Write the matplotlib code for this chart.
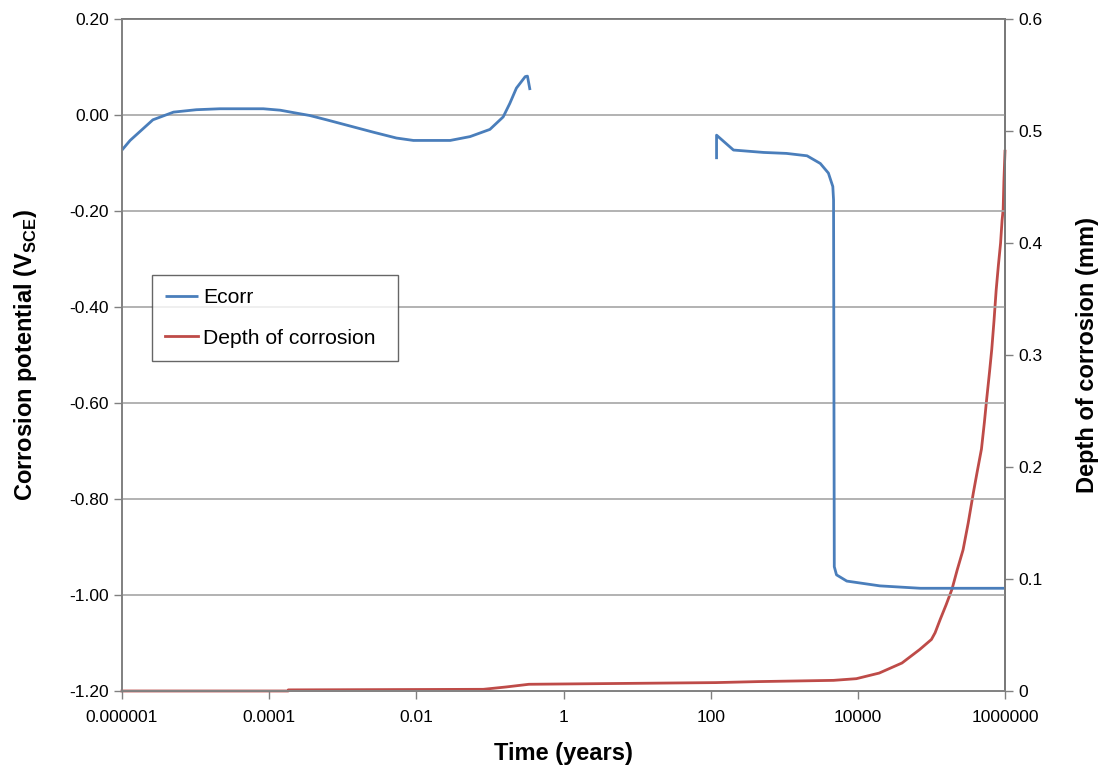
import matplotlib
matplotlib.use("Agg")
import matplotlib.pyplot as plt
from matplotlib.ticker import FixedLocator, FixedFormatter, NullLocator
import numpy as np

# ---- data ----
ecorr1_logt = [-6.0, -5.89, -5.58, -5.30, -4.99, -4.67, -4.08, -3.85, -3.67, -3.45, -3.22,
               -2.90, -2.58, -2.27, -2.04, -1.54, -1.27, -1.00, -0.82, -0.73, -0.64, -0.52,
               -0.49, -0.455]
ecorr1_v = [-0.073, -0.053, -0.010, 0.006, 0.011, 0.013, 0.013, 0.010, 0.005, -0.001, -0.010,
            -0.023, -0.036, -0.048, -0.053, -0.053, -0.045, -0.030, -0.004, 0.024, 0.056, 0.080,
            0.081, 0.052]
ecorr2_logt = [2.08, 2.08, 2.31, 2.72, 3.03, 3.31, 3.49, 3.60, 3.66, 3.67, 3.68, 3.71, 3.85,
               4.30, 4.85, 6.0]
ecorr2_v = [-0.092, -0.042, -0.073, -0.078, -0.080, -0.085, -0.101, -0.121, -0.149, -0.177,
            -0.941, -0.958, -0.971, -0.981, -0.986, -0.986]
depth_logt = [-6.0, -3.74, -3.74, -1.09, -0.78, -0.47, 2.07, 2.65, 3.67, 3.98, 4.29, 4.60,
              4.84, 5.0, 5.05, 5.12, 5.2, 5.28, 5.35, 5.43, 5.5, 5.57, 5.62, 5.68, 5.72, 5.75,
              5.79, 5.82, 5.85, 5.88, 5.91, 5.94, 5.96, 5.975, 5.985, 6.0]
depth_mm = [0.0, 0.0, 0.001, 0.0015, 0.0036, 0.006, 0.0075, 0.0084, 0.0095, 0.011, 0.016,
            0.025, 0.037, 0.046, 0.052, 0.064, 0.077, 0.091, 0.108, 0.126, 0.150, 0.177,
            0.195, 0.216, 0.240, 0.260, 0.285, 0.305, 0.330, 0.358, 0.380, 0.400, 0.420,
            0.430, 0.455, 0.482]
xtick_vals = [1e-6, 1e-4, 1e-2, 1, 1e2, 1e4, 1e6]
xtick_labels = ['0.000001', '0.0001', '0.01', '1', '100', '10000', '1000000']
yleft_ticks = [-1.2, -1.0, -0.8, -0.6, -0.4, -0.2, 0.0, 0.2]
yleft_labels = ['-1.20', '-1.00', '-0.80', '-0.60', '-0.40', '-0.20', '0.00', '0.20']
yright_ticks = [0, 0.1, 0.2, 0.3, 0.4, 0.5, 0.6]
yright_labels = ['0', '0.1', '0.2', '0.3', '0.4', '0.5', '0.6']

BLUE = '#4A7EBB'
RED = '#BE4B48'
plt.rcParams['font.family'] = ['Liberation Sans', 'DejaVu Sans']
plt.rcParams['mathtext.fontset'] = 'custom'
plt.rcParams['mathtext.bf'] = 'Liberation Sans:bold'
plt.rcParams['mathtext.rm'] = 'Liberation Sans:bold'

fig = plt.figure(figsize=(11.04, 7.69), dpi=100)
ax = fig.add_axes([122/1104, 78/769, 883/1104, 672/769])
ax2 = ax.twinx()

t1 = np.power(10.0, ecorr1_logt)
t2 = np.power(10.0, ecorr2_logt)
td = np.power(10.0, depth_logt)

l1, = ax.plot(t1, ecorr1_v, color=BLUE, lw=2.0, solid_capstyle='butt', label='Ecorr')
ax.plot(t2, ecorr2_v, color=BLUE, lw=2.0, solid_capstyle='butt')
l2, = ax2.plot(td, depth_mm, color=RED, lw=2.0, label='Depth of corrosion', clip_on=False)

ax.set_xscale('log')
ax.set_xlim(1e-6, 1e6)
ax.set_ylim(-1.2, 0.2)
ax2.set_ylim(0, 0.6)

ax.xaxis.set_major_locator(FixedLocator(xtick_vals))
ax.xaxis.set_major_formatter(FixedFormatter(xtick_labels))
ax.xaxis.set_minor_locator(NullLocator())
ax.set_yticks(yleft_ticks)
ax.set_yticklabels(yleft_labels)
ax2.set_yticks(yright_ticks)
ax2.set_yticklabels(yright_labels)

ax.grid(axis='y', color='#a6a6a6', lw=1.2)
ax.set_axisbelow(True)

for a in (ax, ax2):
    for s in a.spines.values():
        s.set_color('#808080')
        s.set_linewidth(1.2)
    a.tick_params(colors='#808080', labelcolor='black', labelsize=12.5, length=6, width=1.0,
                  direction='out')
ax2.spines['right'].set_color('#404040')
ax2.spines['top'].set_color('#404040')
ax.tick_params(axis='x', pad=8)

lab_font = dict(family=['Liberation Sans', 'DejaVu Sans'], weight='bold', size=17)
ax.set_xlabel('Time (years)', labelpad=12, **lab_font)
ax.set_ylabel(r'Corrosion potential (V$_{\mathbf{SCE}}$)', labelpad=22, **lab_font)
ax2.set_ylabel('Depth of corrosion (mm)', labelpad=24, **lab_font)

leg = ax.legend(handles=[l1, l2], loc='upper left',
                bbox_to_anchor=(0.034, 0.619, (398 - 152) / 883, 0.0), mode='expand',
                fontsize=15.2, frameon=True, fancybox=False, handlelength=1.55,
                labelspacing=1.03, borderpad=0.62, handletextpad=0.25, borderaxespad=0)
leg.get_frame().set_edgecolor('#404040')
leg.get_frame().set_linewidth(1.0)
leg.set_zorder(10)
ax.set_zorder(ax2.get_zorder() + 1)
ax.patch.set_visible(False)

fig.savefig('out.png', dpi=100)
